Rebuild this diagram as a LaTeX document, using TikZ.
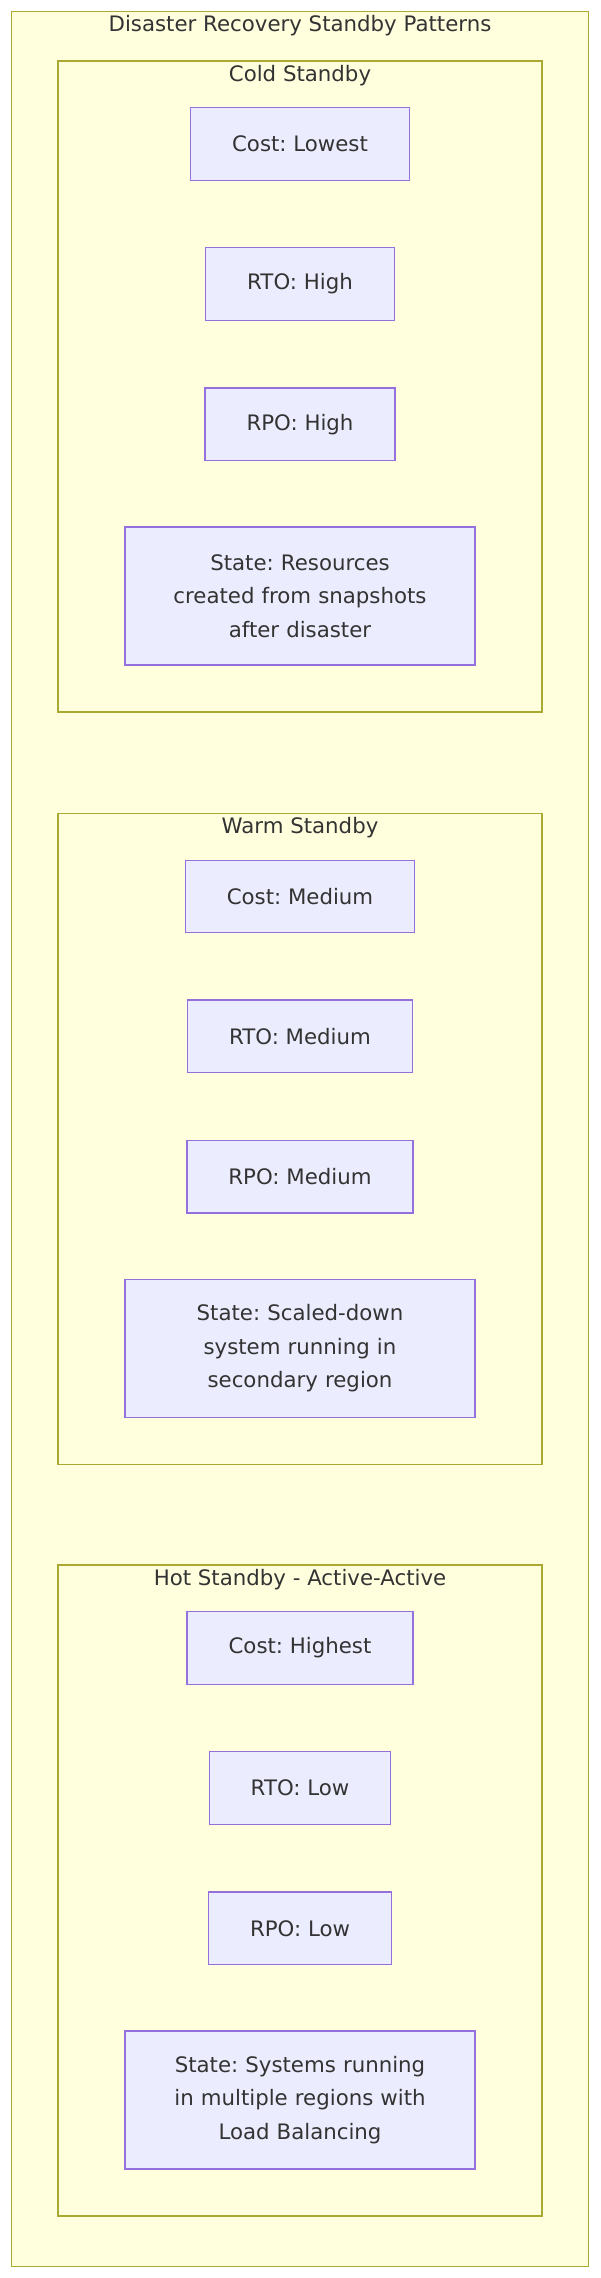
\documentclass[tikz,border=0pt]{standalone}
\usepackage{fontspec}
\setmainfont{DejaVu Sans}
\usetikzlibrary{positioning}
\definecolor{clusterfill}{HTML}{FFFFDE}
\definecolor{clusterline}{HTML}{AAAA33}
\definecolor{nodefill}{HTML}{ECECFF}
\definecolor{nodeline}{HTML}{9370DB}
\definecolor{labeltext}{HTML}{333333}
\frenchspacing

\begin{document}
\begin{tikzpicture}[x=1pt, y=-1pt,
  every node/.style={text=labeltext, font=\fontsize{21.3}{33.4}\selectfont},
  cluster/.style={draw=clusterline, fill=clusterfill, line width=1.3pt, minimum width=483.8pt, minimum height=651pt, inner sep=0pt},
  metric/.style={draw=nodeline, fill=nodefill, line width=1.3pt, minimum height=72.6pt, inner xsep=41.5pt, inner ysep=0pt},
  statebox/.style={metric, minimum height=138pt, text width=267pt, align=center}]
  \useasboundingbox (0,0) rectangle (600,2278);

  % outer frame
  \node[cluster, minimum width=576.8pt, minimum height=2254.8pt] (patterns) at (300,1139) {};
  \node (patternstitle) at (300,26) {Disaster Recovery Standby Patterns};

  % cold standby
  \node[cluster] (cold) at (300,386.5) {};
  \node (coldtitle) at (300,75.5) {Cold Standby};
  \node[metric] (coldcost) at (300,144) {Cost: Lowest};
  \node[metric, below=66pt of coldcost] (coldrto) {RTO: High};
  \node[metric, below=66.5pt of coldrto] (coldrpo) {RPO: High};
  \node[statebox, below=65pt of coldrpo] (coldstate) {State: Resources\\created from snapshots\\after disaster};

  % warm standby
  \node[cluster] (warm) at (300,1139) {};
  \node (warmtitle) at (300,828) {Warm Standby};
  \node[metric] (warmcost) at (300,896.5) {Cost: Medium};
  \node[metric, below=66pt of warmcost] (warmrto) {RTO: Medium};
  \node[metric, below=66.5pt of warmrto] (warmrpo) {RPO: Medium};
  \node[statebox, below=65pt of warmrpo] (warmstate) {State: Scaled-down\\system running in\\secondary region};

  % hot standby
  \node[cluster] (hot) at (300,1890.5) {};
  \node (hottitle) at (300,1579.5) {Hot Standby - Active-Active};
  \node[metric] (hotcost) at (300,1648) {Cost: Highest};
  \node[metric, below=66pt of hotcost] (hotrto) {RTO: Low};
  \node[metric, below=66.5pt of hotrto] (hotrpo) {RPO: Low};
  \node[statebox, below=65pt of hotrpo] (hotstate) {State: Systems running\\in multiple regions with\\Load Balancing};
\end{tikzpicture}
\end{document}
